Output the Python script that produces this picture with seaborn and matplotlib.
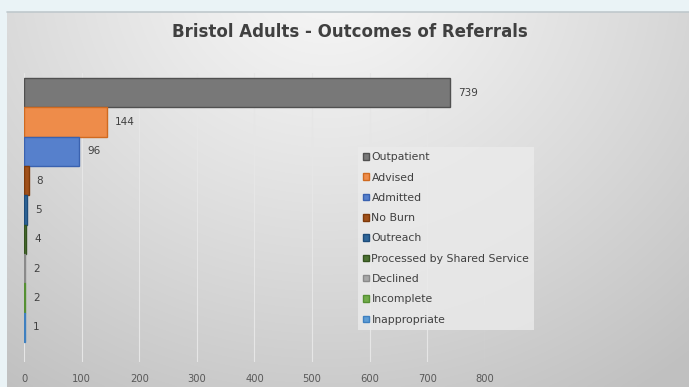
import numpy as np
import pandas as pd
import matplotlib
matplotlib.use("Agg")
import matplotlib.pyplot as plt
import seaborn as sns
from matplotlib.patches import Patch

# Referral outcomes, largest first
categories = ["Outpatient", "Advised", "Admitted", "No Burn", "Outreach",
              "Processed by Shared Service", "Declined", "Incomplete", "Inappropriate"]
counts = [739, 144, 96, 8, 5, 4, 2, 2, 1]
x_ticks = [0, 100, 200, 300, 400, 500, 600, 700, 800]

fill_colors = ["#787878", "#EE8C4A", "#5680CC", "#A0501A", "#2F6699",
               "#4C7233", "#A8A8A8", "#72AC4A", "#5E9DD6"]
edge_colors = ["#505050", "#D06A20", "#3A62B0", "#7E3A0A", "#1E4C7A",
               "#34521F", "#8A8A8A", "#559033", "#3F80C0"]

title_text = "Bristol Adults - Outcomes of Referrals"

sns.set_theme(style="white")
plt.rcParams["font.family"] = ["DejaVu Sans"]

W, H = 689, 387
fig = plt.figure(figsize=(W / 100, H / 100), dpi=100)
fig.patch.set_facecolor("#EAF3F6")

# Grey radial-gradient chart panel
panel = fig.add_axes([7 / W, 0, 1 - 7 / W, 1 - 12 / H], zorder=0)
gx, gy = np.meshgrid(np.linspace(0, 682, 341), np.linspace(0, 375, 188))
dist = np.sqrt(((gx - 320) / 1.0) ** 2 + ((gy + 40) / 0.9) ** 2)
shade = 0.965 - 0.21 * np.clip(dist / 560, 0, 1) ** 1.2
panel.imshow(np.dstack([shade, shade, shade]), aspect="auto",
             extent=[0, 1, 0, 1], interpolation="bilinear")
panel.set_axis_off()
fig.add_artist(plt.Line2D([7 / W, 1], [1 - 12 / H, 1 - 12 / H],
                          color="#BFC8CC", lw=1.2))

df = pd.DataFrame({"category": categories, "count": counts})

ax = fig.add_axes([24 / W, (H - 362) / H, 461 / W, 289 / H], zorder=1)
ax.patch.set_alpha(0)
sns.barplot(data=df, x="count", y="category", hue="category",
            palette=fill_colors, orient="h", width=1.0, dodge=False,
            legend=False, ax=ax, saturation=1)

for bar, ec in zip(ax.patches, edge_colors):
    bar.set_edgecolor(ec)
    bar.set_linewidth(1.0)

ax.set_xlim(0, 800)
ax.set_ylim(9.18, -0.67)
ax.set_xticks(x_ticks)
ax.set_xticklabels([str(t) for t in x_ticks], color="#595959", fontsize=7.2)
ax.tick_params(axis="x", length=0, pad=9)
ax.set_yticks([])
ax.set_xlabel("")
ax.set_ylabel("")
for s in ax.spines.values():
    s.set_visible(False)
ax.grid(axis="x", color="#E6E6E6", lw=0.8)
ax.set_axisbelow(True)

for i, v in enumerate(counts):
    ax.annotate(str(v), xy=(v, i), xytext=(5.8, 0), textcoords="offset points",
                va="center", ha="left", fontsize=7.5, color="#404040")

handles = [Patch(facecolor=fc, edgecolor=ec, label=c)
           for c, fc, ec in zip(categories, fill_colors, edge_colors)]
leg = fig.legend(handles=handles, loc="upper left",
                 bbox_to_anchor=(353 / W, 1 - 142 / H),
                 fontsize=7.8, frameon=True, fancybox=False,
                 handlelength=0.55, handleheight=0.55, handletextpad=0.2,
                 labelspacing=0.95, borderpad=0.45, labelcolor="#404040")
leg.get_frame().set_facecolor("#EBEBEB")
leg.get_frame().set_alpha(0.8)
leg.get_frame().set_linewidth(0)

fig.text(350 / W, 1 - 32 / H, title_text, ha="center", va="center",
         fontsize=12, fontweight="bold", color="#404040")

fig.savefig("out.png", dpi=100)
